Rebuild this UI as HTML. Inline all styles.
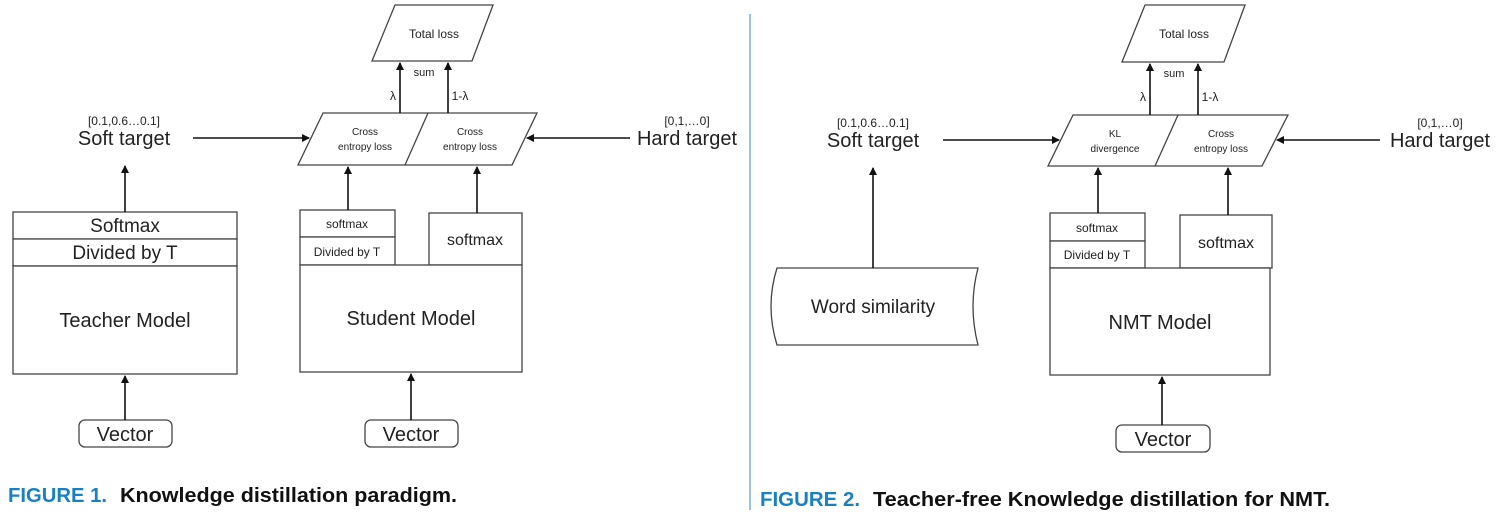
<!DOCTYPE html>
<html><head><meta charset="utf-8"><style>
html,body{margin:0;padding:0;background:#fff;}
svg{display:block;font-family:"Liberation Sans",sans-serif;}
</style></head><body>
<svg width="1501" height="529" viewBox="0 0 1501 529" xmlns="http://www.w3.org/2000/svg">
<defs>
<marker id="a" markerWidth="8" markerHeight="8" refX="7" refY="4" orient="auto" markerUnits="userSpaceOnUse">
<path d="M0,0 L8,4 L0,8 Z" fill="#111"/></marker>
</defs>
<g stroke="#444" stroke-width="1.3" fill="#fff">
<polygon points="395,5 493,5 472,61 372,61"/>
<polygon points="323,113 537,113 512,165 298,165"/>
<line x1="428" y1="113" x2="405" y2="165"/>
<rect x="13" y="212" width="224" height="27"/>
<rect x="13" y="239" width="224" height="27"/>
<rect x="13" y="266" width="224" height="108"/>
<rect x="300" y="210" width="95" height="27"/>
<rect x="300" y="237" width="95" height="28"/>
<rect x="429" y="213" width="93" height="52"/>
<rect x="300" y="265" width="222" height="107"/>
<rect x="79" y="420" width="93" height="27" rx="6"/>
<rect x="365" y="420" width="93" height="27" rx="6"/>
<polygon points="1145,5 1245,5 1224,62 1122,62"/>
<polygon points="1073,115 1288,115 1262,166 1048,166"/>
<line x1="1178" y1="115" x2="1155" y2="166"/>
<rect x="1050" y="213" width="95" height="28"/>
<rect x="1050" y="241" width="95" height="27"/>
<rect x="1180" y="215" width="92" height="53"/>
<rect x="1050" y="268" width="220" height="107"/>
<rect x="1116" y="425" width="94" height="27" rx="6"/>
<path d="M777,268 L978,268 Q968,306 978,345 L777,345 Q765,306 777,268 Z"/>
</g>
<g stroke="#111" stroke-width="1.6" fill="none" marker-end="url(#a)">
<line x1="400" y1="113" x2="400" y2="63"/>
<line x1="448" y1="113" x2="448" y2="63"/>
<line x1="348" y1="210" x2="348" y2="167"/>
<line x1="477" y1="213" x2="477" y2="167"/>
<line x1="193" y1="138" x2="309" y2="138"/>
<line x1="630" y1="138" x2="527" y2="138"/>
<line x1="125" y1="212" x2="125" y2="166"/>
<line x1="125" y1="420" x2="125" y2="376"/>
<line x1="411" y1="420" x2="411" y2="374"/>
<line x1="1150" y1="115" x2="1150" y2="64"/>
<line x1="1198" y1="115" x2="1198" y2="64"/>
<line x1="1098" y1="213" x2="1098" y2="168"/>
<line x1="1228" y1="215" x2="1228" y2="168"/>
<line x1="943" y1="140" x2="1059" y2="140"/>
<line x1="1380" y1="140" x2="1277" y2="140"/>
<line x1="873" y1="268" x2="873" y2="168"/>
<line x1="1162" y1="425" x2="1162" y2="377"/>
</g>
<line x1="750" y1="14" x2="750" y2="510" stroke="#5b9bd5" stroke-width="1.2"/>
<g fill="#222" text-anchor="middle">
<text x="434" y="38" font-size="12">Total loss</text>
<text x="424" y="76" font-size="11">sum</text>
<text x="393" y="100" font-size="12">λ</text>
<text x="460" y="100" font-size="12">1-λ</text>
<text x="365" y="135" font-size="10">Cross</text>
<text x="365" y="150" font-size="10">entropy loss</text>
<text x="470" y="135" font-size="10">Cross</text>
<text x="470" y="150" font-size="10">entropy loss</text>
<text x="124" y="125" font-size="12">[0.1,0.6…0.1]</text>
<text x="124" y="145" font-size="20">Soft target</text>
<text x="687" y="125" font-size="12">[0,1,…0]</text>
<text x="687" y="145" font-size="20">Hard target</text>
<text x="125" y="232" font-size="19">Softmax</text>
<text x="125" y="259" font-size="19">Divided by T</text>
<text x="125" y="327" font-size="20">Teacher Model</text>
<text x="347" y="228" font-size="12">softmax</text>
<text x="347" y="256" font-size="12">Divided by T</text>
<text x="475" y="245" font-size="16">softmax</text>
<text x="411" y="325" font-size="20">Student Model</text>
<text x="125" y="441" font-size="20">Vector</text>
<text x="411" y="441" font-size="20">Vector</text>

<text x="1184" y="38" font-size="12">Total loss</text>
<text x="1174" y="77" font-size="11">sum</text>
<text x="1143" y="101" font-size="12">λ</text>
<text x="1210" y="101" font-size="12">1-λ</text>
<text x="1115" y="137" font-size="10">KL</text>
<text x="1115" y="152" font-size="10">divergence</text>
<text x="1221" y="137" font-size="10">Cross</text>
<text x="1221" y="152" font-size="10">entropy loss</text>
<text x="873" y="127" font-size="12">[0.1,0.6…0.1]</text>
<text x="873" y="147" font-size="20">Soft target</text>
<text x="1440" y="127" font-size="12">[0,1,…0]</text>
<text x="1440" y="147" font-size="20">Hard target</text>
<text x="1097" y="232" font-size="12">softmax</text>
<text x="1097" y="259" font-size="12">Divided by T</text>
<text x="1226" y="248" font-size="16">softmax</text>
<text x="1160" y="329" font-size="20">NMT Model</text>
<text x="873" y="313" font-size="19">Word similarity</text>
<text x="1163" y="446" font-size="20">Vector</text>
</g>
<g font-weight="bold" font-size="20">
<text x="8" y="502" fill="#1a80c4" textLength="99" lengthAdjust="spacingAndGlyphs">FIGURE 1.</text>
<text x="120" y="502" fill="#111" textLength="337" lengthAdjust="spacingAndGlyphs">Knowledge distillation paradigm.</text>
<text x="760" y="506" fill="#1a80c4" textLength="100" lengthAdjust="spacingAndGlyphs">FIGURE 2.</text>
<text x="873" y="506" fill="#111" textLength="457" lengthAdjust="spacingAndGlyphs">Teacher-free Knowledge distillation for NMT.</text>
</g>
</svg>
</body></html>
